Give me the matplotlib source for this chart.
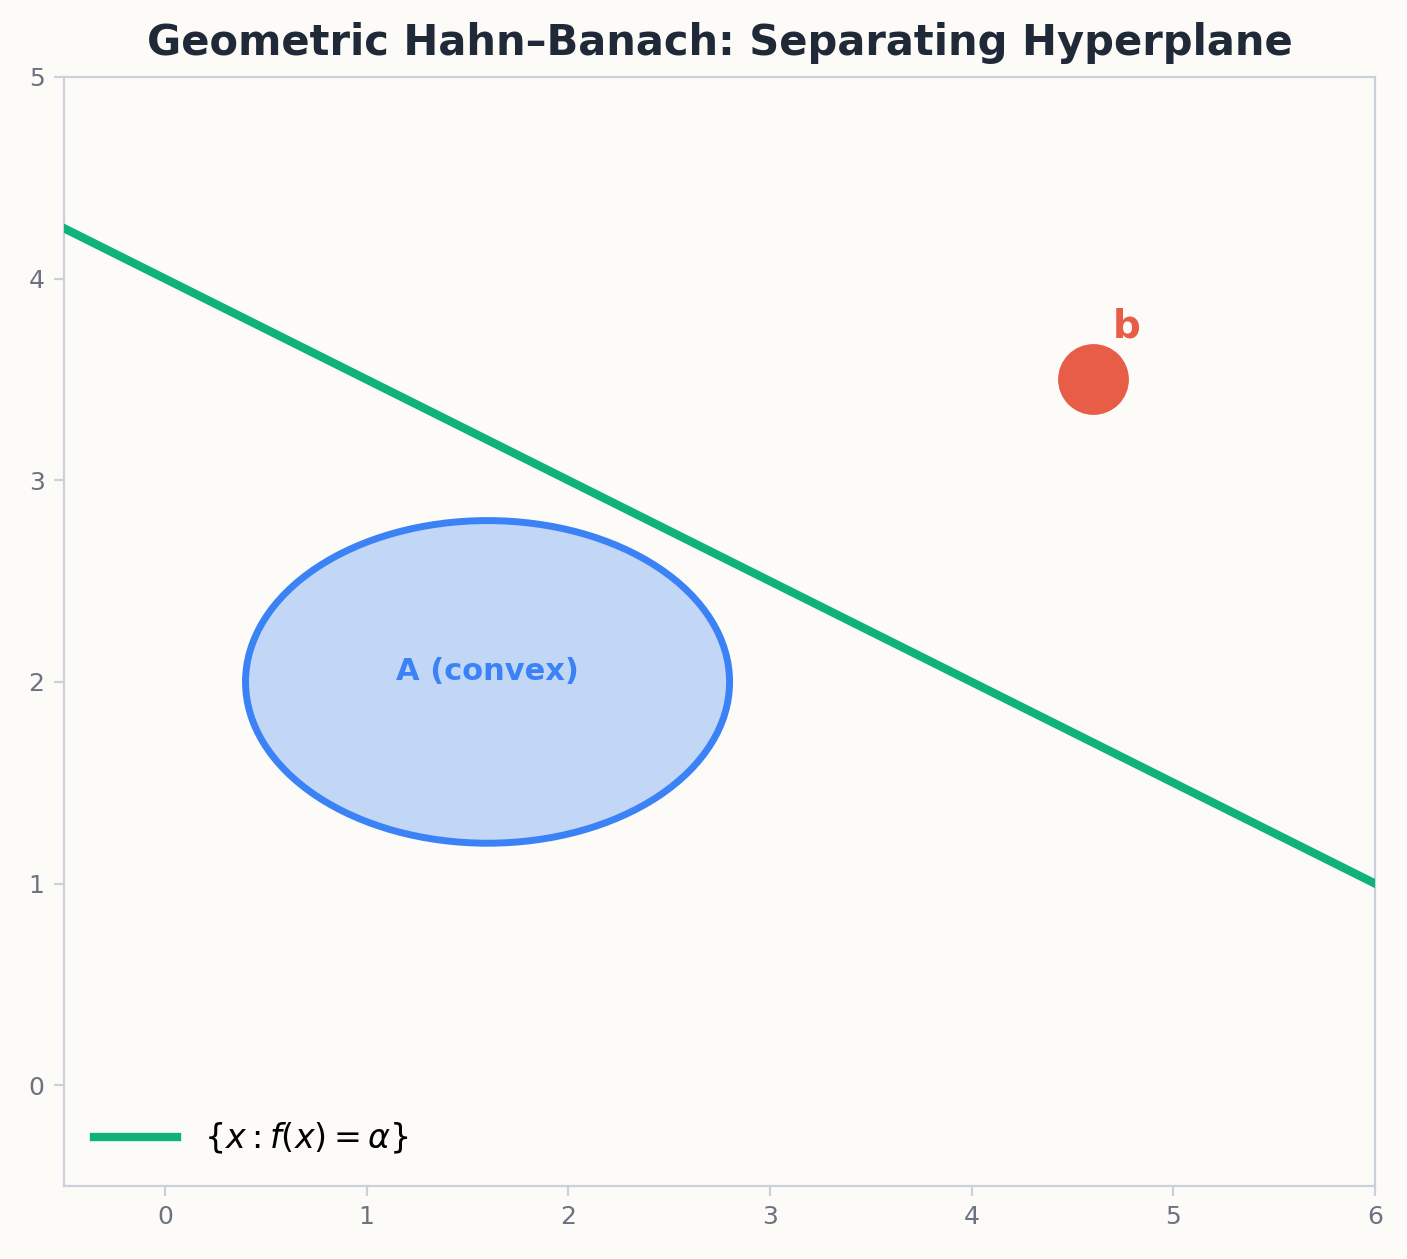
import matplotlib.pyplot as plt
from matplotlib.patches import Ellipse

# hyperplane f(x) = alpha, drawn as y = intercept + slope * x
line_x = [-0.5, 6.0]
line_y = [4.25, 1.0]
ellipse_center = (1.6, 2.0)
ellipse_size = (2.4, 1.6)
point_b = (4.6, 3.5)

BG = "#fcfbf8"
fig = plt.figure(figsize=(7.035, 6.295), dpi=200, facecolor=BG)
ax = fig.add_axes([64 / 1407, 1 - 1186 / 1259, (1375 - 64) / 1407, (1186 - 77) / 1259])
ax.set_facecolor(BG)

ax.add_patch(Ellipse(ellipse_center, *ellipse_size, facecolor="#c2d6f6",
                     edgecolor="#3b82f6", linewidth=2.5, zorder=2))
ax.text(ellipse_center[0], ellipse_center[1] + 0.05, "A (convex)", color="#3b82f6",
        fontsize=11, fontweight="bold", ha="center", va="center", zorder=3)

ax.plot(line_x, line_y, color="#10b27c", linewidth=3, label=r"$\{x : f(x) = \alpha\}$", zorder=4)

ax.scatter([point_b[0]], [point_b[1]], s=600, color="#e85d48", zorder=5)
ax.text(point_b[0] + 0.1, point_b[1] + 0.17, "b", color="#e85d48",
        fontsize=14, fontweight="bold", ha="left", va="bottom")

ax.set_xlim(-0.5, 6)
ax.set_ylim(-0.5, 5)
for s in ax.spines.values():
    s.set_color("#cbd0da")
ax.tick_params(colors="#cbd0da", labelcolor="#6b7280", labelsize=9)
ax.set_title("Geometric Hahn–Banach: Separating Hyperplane", fontsize=15,
             fontweight="bold", color="#1f2937", pad=8)
ax.legend(loc="lower left", frameon=False, fontsize=12, handlelength=2.5)

fig.savefig("out.png", dpi=200, facecolor=BG)
